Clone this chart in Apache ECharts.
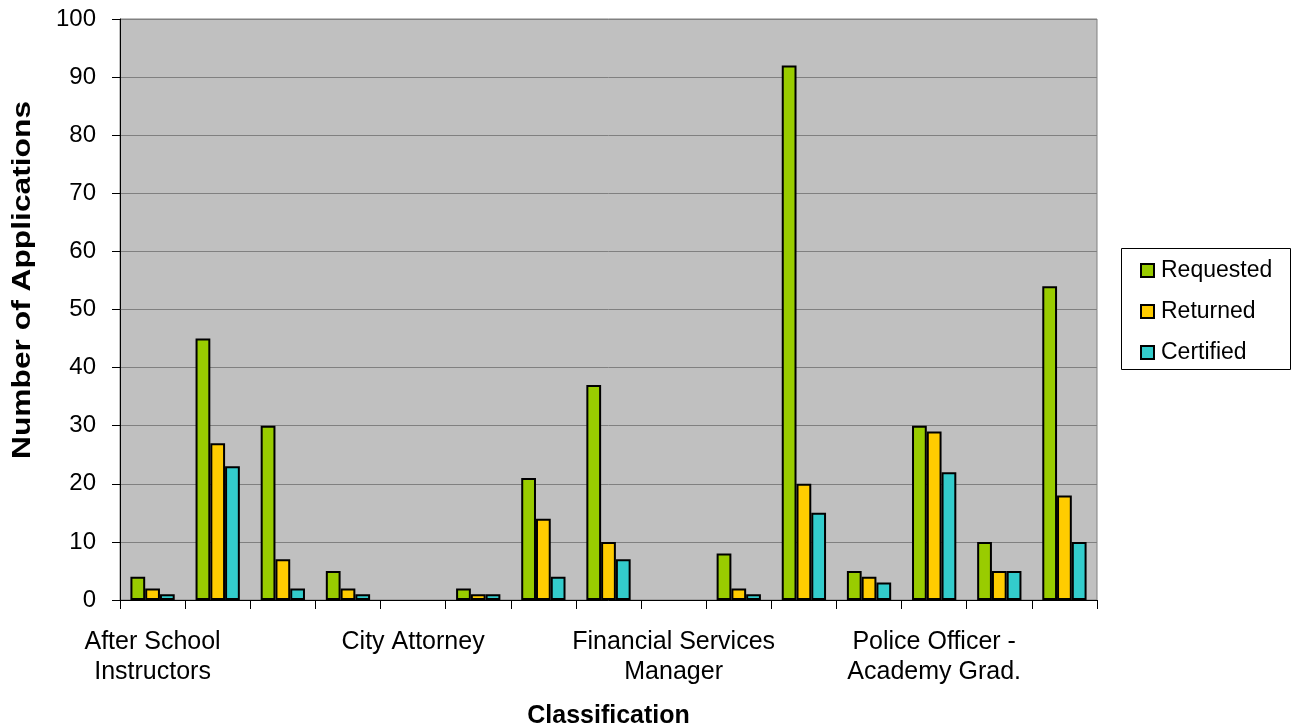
<!DOCTYPE html>
<html>
<head>
<meta charset="utf-8">
<script src="https://cdn.jsdelivr.net/npm/echarts@6/dist/echarts.min.js"></script>
<style>
html,body{margin:0;padding:0;background:#fff;}
#chart{width:1292px;height:726px;}
</style>
</head>
<body>
<div id="chart"></div>
<script>
const categories = [
  "After School\nInstructors", "Animal Control Officer", "Building Inspector", "Child Care Aide",
  "City Attorney", "Civil Engineer", "Clerk Typist", "Custodian",
  "Financial Services\nManager", "Librarian", "Maintenance Worker", "Office Assistant",
  "Police Officer -\nAcademy Grad.", "Police Officer - Lateral", "Recreation Leader"
];
const requested = [4, 45, 30, 5, 0, 2, 21, 37, 0, 8, 92, 5, 30, 10, 54];
const returned  = [2, 27, 7, 2, 0, 1, 14, 10, 0, 2, 20, 4, 29, 5, 18];
const certified = [1, 23, 2, 1, 0, 1, 4, 7, 0, 1, 15, 3, 22, 5, 10];
const yTicks = { min: 0, max: 100, interval: 10 };
const seriesNames = ['Requested', 'Returned', 'Certified'];
const yTitle = 'Number of Applications';
const xTitle = 'Classification';

const FONT = "'Liberation Sans', Arial, sans-serif";
const chart = echarts.init(document.getElementById('chart'), null, {renderer: 'canvas'});

function barSeries(name, data, color) {
  return {
    name: name,
    type: 'bar',
    data: data.map(v => (v === 0 ? null : v)),
    barGap: '0%',
    barCategoryGap: '32%',
    itemStyle: { color: color, borderColor: '#000', borderWidth: 2 },
    emphasis: { disabled: true },
    animation: false
  };
}

chart.setOption({
  animation: false,
  textStyle: { fontFamily: FONT },
  grid: {
    left: 120, top: 19, right: 195, bottom: 126,
    show: true, backgroundColor: '#c0c0c0', borderColor: '#808080', borderWidth: 1,
    containLabel: false,
    outerBoundsMode: 'none'
  },
  graphic: [
    {
      type: 'rect',
      shape: { x: 1121.5, y: 248.5, width: 169, height: 121 },
      style: { fill: 'none', stroke: '#000', lineWidth: 1 },
      silent: true
    },
    {
      type: 'text',
      x: 23, y: 280,
      rotation: Math.PI / 2,
      scaleX: 1.27,
      style: {
        text: yTitle,
        font: "bold 25px 'Liberation Sans', Arial, sans-serif",
        fill: '#000',
        textAlign: 'center',
        textVerticalAlign: 'middle'
      },
      silent: true
    }
  ],
  legend: {
    orient: 'vertical',
    left: 1121, top: 248,
    padding: [11, 10, 5, 19],
    itemGap: 18,
    itemWidth: 13, itemHeight: 13,
    icon: 'rect',
    textStyle: { fontSize: 23, color: '#000', fontFamily: FONT, padding: [0, 0, 0, 2] },
    data: seriesNames
  },
  xAxis: {
    type: 'category',
    data: categories,
    name: xTitle,
    nameLocation: 'middle',
    nameGap: 104,
    nameTextStyle: { fontSize: 25, fontWeight: 'bold', color: '#000', fontFamily: FONT },
    axisLine: { lineStyle: { color: '#000', width: 1 } },
    axisTick: { show: true, interval: 0, length: 9, lineStyle: { color: '#000' } },
    axisLabel: { interval: 3, fontSize: 25, color: '#000', lineHeight: 30, margin: 27, fontFamily: FONT },
    splitLine: { show: false }
  },
  yAxis: {
    type: 'value',
    min: yTicks.min, max: yTicks.max, interval: yTicks.interval,
    axisLine: { show: true, lineStyle: { color: '#000', width: 1 } },
    axisTick: { show: true, length: 8, lineStyle: { color: '#000' } },
    axisLabel: { fontSize: 24, color: '#000', margin: 24, fontFamily: FONT },
    splitLine: { show: true, lineStyle: { color: '#808080', width: 1 } }
  },
  series: [
    barSeries(seriesNames[0], requested, '#99cc00'),
    barSeries(seriesNames[1], returned, '#ffcc00'),
    barSeries(seriesNames[2], certified, '#33cccc')
  ]
});
</script>
</body>
</html>
